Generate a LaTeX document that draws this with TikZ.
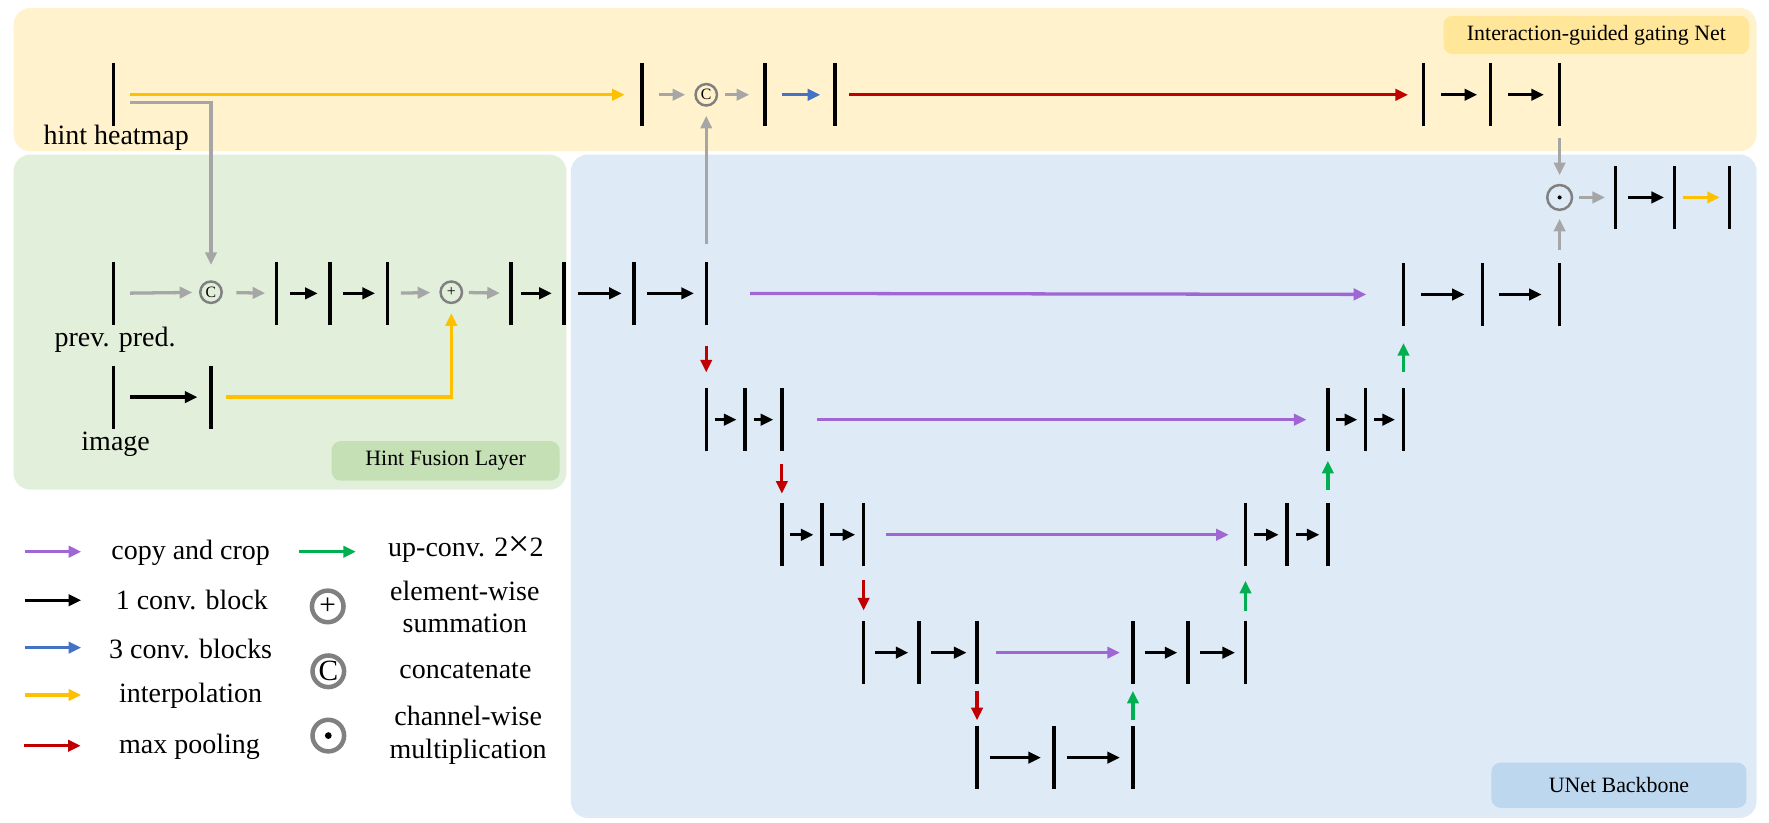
\documentclass[tikz,border=0pt]{standalone}
\usepackage{fontspec}
\setmainfont{Liberation Serif}
\usetikzlibrary{arrows.meta}
\definecolor{yellowpanel}{HTML}{FFF2CC}
\definecolor{yellowtag}{HTML}{FFE699}
\definecolor{greenpanel}{HTML}{E2EFDA}
\definecolor{greentag}{HTML}{C5E0B4}
\definecolor{bluepanel}{HTML}{DEEBF7}
\definecolor{bluetag}{HTML}{BDD7EE}
\definecolor{cpurple}{HTML}{A066D3}
\definecolor{cyellow}{HTML}{FFC000}
\definecolor{cred}{HTML}{C00000}
\definecolor{cblue}{HTML}{4472C4}
\definecolor{cgreen}{HTML}{00B050}
\definecolor{cgray}{HTML}{A6A6A6}
\definecolor{ringgray}{HTML}{808080}

\begin{document}
\begin{tikzpicture}[x=0.5pt, y=-0.5pt,
   every node/.style={font=\fontsize{12.4}{14.5}\selectfont},
   fmap/.style={fill=black, inner sep=0pt, minimum width=1.5pt, minimum height=28pt},
   tag/.style={rounded corners=4pt, inner sep=0pt, font=\fontsize{9.7}{11}\selectfont},
   ring/.style={circle, draw=ringgray, line width=1.1pt, inner sep=0pt, minimum size=9.5pt, font=\fontsize{7}{7}\selectfont},
   bigring/.style={circle, draw=ringgray, line width=2pt, inner sep=0pt, minimum size=14pt, font=\fontsize{13}{13}\selectfont},
   dotin/.style={path picture={\fill[black] (path picture bounding box.center) circle (#1);}},
   arr/.style={-{Triangle[length=5.6pt,width=5pt]}, line width=1.45pt},
   conv/.style={arr, black, shorten <=5pt, shorten >=4.5pt},
   shortgap/.style={shorten <=2.8pt, shorten >=2.8pt},
   conv3/.style={arr, cblue},
   interp/.style={arr, cyellow},
   maxpool/.style={arr, cred},
   copycrop/.style={arr, cpurple},
   upconv/.style={arr, cgreen},
   grayarr/.style={arr, cgray}]
   \useasboundingbox (0,0) rectangle (1568,729);
   \fill[yellowpanel, rounded corners=7.5pt] (12,7) rectangle (1557,134);
   \fill[greenpanel, rounded corners=7.5pt] (12,137) rectangle (502,434);
   \fill[bluepanel, rounded corners=7.5pt] (506,137) rectangle (1557,725);
   \node[tag, fill=yellowtag, minimum width=135.5pt, minimum height=17pt] (gatetag) at (1415,31) {Interaction-guided gating Net};
   \node[tag, fill=greentag, minimum width=101pt, minimum height=17.5pt] (fusetag) at (395,408.5) {Hint Fusion Layer};
   \node[tag, fill=bluetag, minimum width=113pt, minimum height=20pt] (unettag) at (1435,696) {UNet Backbone};

   \node[fmap] (hint) at (100.5,84) {};
   \node (hintlbl) at (103,122) {hint heatmap};
   \node[fmap] (g1) at (569,84) {};
   \node[ring] (catg) at (626,84) {C};
   \node[fmap] (g2) at (678,84) {};
   \node[fmap] (g3) at (740,84) {};
   \node[fmap] (g4) at (1262,84) {};
   \node[fmap] (g5) at (1321.3,84) {};
   \node[fmap] (g6) at (1382.4,84) {};

   \node[fmap] (prev) at (100.5,260) {};
   \node (prevlbl) at (102,301) {prev. pred.};
   \node[ring] (cat1) at (187,259) {C};
   \node[fmap] (f1) at (245,260) {};
   \node[fmap] (f2) at (292.5,260) {};
   \node[fmap] (f3) at (343.4,260) {};
   \node[ring] (plus) at (400,259) {+};
   \node[fmap] (f4) at (453,260) {};
   \node[fmap] (f5) at (500,260) {};
   \node[fmap] (e1) at (562,260) {};
   \node[fmap] (e2) at (626,260) {};

   \node[fmap] (img) at (100.5,352) {};
   \node (imglbl) at (102.5,394) {image};
   \node[fmap] (img2) at (187,352) {};

   \node[fmap] (d2a) at (626,372) {};
   \node[fmap] (d2b) at (660.4,372) {};
   \node[fmap] (d2c) at (693,372) {};
   \node[fmap] (d3a) at (693,474) {};
   \node[fmap] (d3b) at (728.6,474) {};
   \node[fmap] (d3c) at (765.5,474) {};
   \node[fmap] (d4a) at (765.5,578.5) {};
   \node[fmap] (d4b) at (814.5,578.5) {};
   \node[fmap] (d4c) at (866,578.5) {};
   \node[fmap] (b1) at (866,671.5) {};
   \node[fmap] (b2) at (934.2,671.5) {};
   \node[fmap] (b3) at (1004.2,671.5) {};
   \node[fmap] (u4a) at (1004.2,578.5) {};
   \node[fmap] (u4b) at (1052.9,578.5) {};
   \node[fmap] (u4c) at (1104,578.5) {};
   \node[fmap] (u3a) at (1104,474) {};
   \node[fmap] (u3b) at (1140.9,474) {};
   \node[fmap] (u3c) at (1177,474) {};
   \node[fmap] (u2a) at (1177,372) {};
   \node[fmap] (u2b) at (1210.6,372) {};
   \node[fmap] (u2c) at (1244,372) {};
   \node[fmap] (u1a) at (1244,261) {};
   \node[fmap] (u1b) at (1314.2,261) {};
   \node[fmap] (u1c) at (1382.4,261) {};

   \node[ring, dotin=0.9pt, minimum size=11pt] (mul) at (1382.4,175) {};
   \node[fmap] (o1) at (1432,175) {};
   \node[fmap] (o2) at (1484.4,175) {};
   \node[fmap] (o3) at (1533,175) {};

   \draw[interp, shorten <=6.5pt, shorten >=6.7pt] (hint) -- (g1);
   \draw[grayarr, shorten <=6.5pt, shorten >=6.8pt] ([yshift=-3.5pt]hint.east) -| (cat1);
   \draw[grayarr, shorten <=6.5pt, shorten >=4pt] (g1) -- (catg);
   \draw[grayarr, shorten <=3.2pt, shorten >=6pt] (catg) -- (g2);
   \draw[conv3, shorten <=6.5pt, shorten >=5.5pt] (g2) -- (g3);
   \draw[maxpool, shorten <=5.5pt, shorten >=6pt] (g3) -- (g4);
   \draw[conv, shorten <=6.8pt, shorten >=5pt] (g4) -- (g5);
   \draw[conv, shorten <=6.7pt, shorten >=6pt] (g5) -- (g6);
   \draw[grayarr, shorten <=5pt, shorten >=3.8pt] (g6) -- (mul);
   \draw[grayarr, shorten <=5.5pt, shorten >=3.4pt] (u1c) -- (mul);
   \draw[grayarr, shorten <=2.5pt, shorten >=3.7pt] (mul) -- (o1);
   \draw[conv, shorten <=4.5pt, shorten >=3.8pt] (o1) -- (o2);
   \draw[interp, shorten <=2.9pt, shorten >=3.3pt] (o2) -- (o3);
   \draw[grayarr, shorten <=7.5pt, shorten >=4pt] (e2) -- (catg);

   \draw[grayarr, shorten <=6.5pt, shorten >=3pt] (prev) -- (cat1);
   \draw[grayarr, shorten <=6pt, shorten >=4pt] (cat1) -- (f1);
   \draw[conv] (f1) -- (f2);
   \draw[conv] (f2) -- (f3);
   \draw[grayarr, shorten <=5pt, shorten >=4pt] (f3) -- (plus);
   \draw[grayarr, shorten <=2.5pt, shorten >=4pt] (plus) -- (f4);
   \draw[conv, shorten <=3.5pt] (f4) -- (f5);
   \draw[conv] (f5) -- (e1);
   \draw[conv] (e1) -- (e2);
   \draw[conv, shorten <=6.5pt, shorten >=5pt] (img) -- (img2);
   \draw[interp, shorten <=5.5pt, shorten >=4pt] (img2) -| (plus);

   \draw[maxpool, shorten <=9pt, shorten >=6.7pt] (e2) -- (d2a);
   \draw[conv, shortgap] (d2a) -- (d2b);
   \draw[conv, shortgap] (d2b) -- (d2c);
   \draw[maxpool, shorten <=5.5pt, shorten >=4pt] (d2c) -- (d3a);
   \draw[conv, shortgap] (d3a) -- (d3b);
   \draw[conv, shortgap] (d3b) -- (d3c);
   \draw[maxpool, shorten <=6pt, shorten >=4.5pt] (d3c) -- (d4a);
   \draw[conv, shorten <=4.2pt, shorten >=3.7pt] (d4a) -- (d4b);
   \draw[conv, shorten <=4.2pt, shorten >=3.7pt] (d4b) -- (d4c);
   \draw[maxpool, shorten <=2.7pt, shorten >=2.3pt] (d4c) -- (b1);
   \draw[conv, shorten <=4.9pt, shorten >=4.8pt] (b1) -- (b2);
   \draw[conv, shorten <=4.9pt, shorten >=4.8pt] (b2) -- (b3);
   \draw[upconv, shorten <=2.3pt, shorten >=2.7pt] (b3) -- (u4a);
   \draw[conv, shorten <=4.2pt, shorten >=3.7pt] (u4a) -- (u4b);
   \draw[conv, shorten <=4.2pt, shorten >=3.7pt] (u4b) -- (u4c);
   \draw[upconv, shorten <=4.4pt, shorten >=6.2pt] (u4c) -- (u3a);
   \draw[conv, shortgap] (u3a) -- (u3b);
   \draw[conv, shortgap] (u3b) -- (u3c);
   \draw[upconv, shorten <=5.5pt, shorten >=4pt] (u3c) -- (u2a);
   \draw[conv, shortgap] (u2a) -- (u2b);
   \draw[conv, shortgap] (u2b) -- (u2c);
   \draw[upconv, shorten <=6.8pt, shorten >=7.3pt] (u2c) -- (u1a);
   \draw[conv, shorten <=7pt, shorten >=7pt] (u1a) -- (u1b);
   \draw[conv, shorten <=6.5pt, shorten >=7pt] (u1b) -- (u1c);

   \draw[copycrop, shorten <=18.5pt, shorten >=15.5pt] (e2) -- (u1a);
   \draw[copycrop, shorten <=14.8pt, shorten >=8.5pt] (d2c) -- (u2a);
   \draw[copycrop, shorten <=9pt, shorten >=6.5pt] (d3c) -- (u3a);
   \draw[copycrop, shorten <=7.5pt, shorten >=4.8pt] (d4c) -- (u4a);

   \coordinate (keycopyA) at (22,489);
   \coordinate (keycopyB) at (72,489);
   \coordinate (keyconvA) at (22,532);
   \coordinate (keyconvB) at (72,532);
   \coordinate (keyconv3A) at (22,574);
   \coordinate (keyconv3B) at (72,574);
   \coordinate (keyinterpA) at (22,616);
   \coordinate (keyinterpB) at (72,616);
   \coordinate (keypoolA) at (21.5,661);
   \coordinate (keypoolB) at (71.5,661);
   \coordinate (keyupA) at (265,489);
   \coordinate (keyupB) at (315.5,489);
   \draw[copycrop] (keycopyA) -- (keycopyB);
   \draw[arr, black] (keyconvA) -- (keyconvB);
   \draw[conv3] (keyconv3A) -- (keyconv3B);
   \draw[interp] (keyinterpA) -- (keyinterpB);
   \draw[maxpool] (keypoolA) -- (keypoolB);
   \draw[upconv] (keyupA) -- (keyupB);
   \node (keycopy) at (169,490) {copy and crop};
   \node (keyconv) at (170,532) {1 conv. block};
   \node (keyconv3) at (169,575) {3 conv. blocks};
   \node (keyinterp) at (169,617) {interpolation};
   \node (keypool) at (168,662) {max pooling};
   \node (keyup) at (413,487) {up-conv. 2\scalebox{1.35}{×}2};
   \node[bigring] (keysum) at (290.5,537.5) {+};
   \node[align=center] (keysumtxt) at (412,538) {element-wise\\summation};
   \node[bigring] (keycat) at (291,595) {C};
   \node (keycattxt) at (412.5,594.5) {concatenate};
   \node[bigring, dotin=1.5pt] (keymul) at (291,652) {};
   \node[align=center] (keymultxt) at (415,652) {channel-wise\\multiplication};
\end{tikzpicture}
\end{document}
